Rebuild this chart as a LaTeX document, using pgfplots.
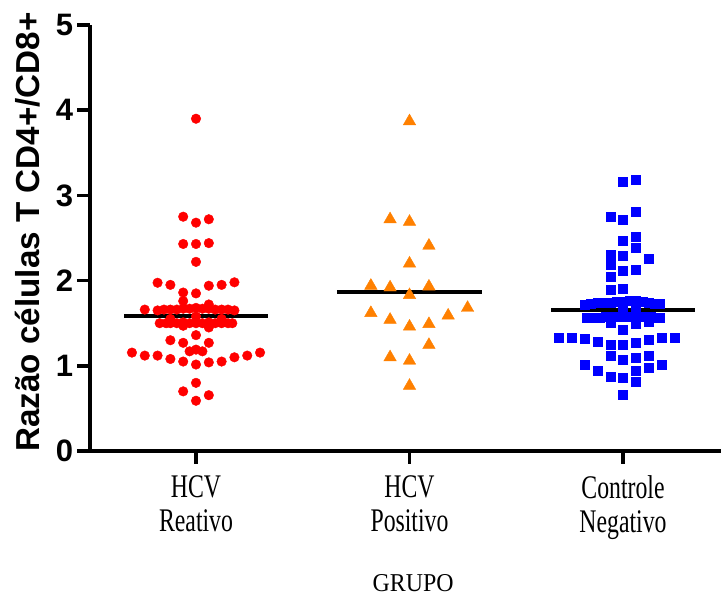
\documentclass[border=0pt]{standalone}
\usepackage{fontspec}
\setmainfont{Liberation Serif}
\setsansfont{Liberation Sans}
\usepackage{pgfplots}
\pgfplotsset{compat=1.18}
\usetikzlibrary{calc}
\definecolor{gred}{HTML}{FF0000}
\definecolor{gorange}{HTML}{FF8000}
\definecolor{gblue}{HTML}{0000FF}

\begin{document}
\begin{tikzpicture}
\begin{axis}[
  width=315.5pt, height=213pt, scale only axis,
  xmin=-0.4965, xmax=2.459, ymin=0, ymax=5,
  axis x line*=bottom, axis y line*=left,
  axis line style={-, line width=2pt, black},
  tick style={black, line width=1.75pt},
  tick align=outside, major tick length=6.25pt,
  xtick={0,1,2}, ytick={0,1,2,3,4,5},
  xtick pos=bottom, ytick pos=left,
  xticklabels={HCV\\Reativo, HCV\\Positivo, Controle\\Negativo},
  xticklabel style={align=center, font=\fontsize{16.5}{17}\selectfont, xscale=0.72, inner sep=0pt, yshift=-6pt},
  yticklabel style={font=\sffamily\bfseries\fontsize{15.5}{15.5}\selectfont, inner sep=0pt, xshift=-2pt},
  /pgf/number format/assume math mode=true,
  xlabel={GRUPO},
  xlabel style={at={(axis description cs:0.512,-0.311)}, anchor=center, font=\fontsize{12.85}{13}\selectfont, xscale=0.93},
  ylabel={Razão células T CD4+/CD8+},
  ylabel style={at={(axis description cs:-0.0983,0.514)}, anchor=center, font=\sffamily\bfseries\fontsize{16.6}{16.6}\selectfont},
]
\coordinate (bl) at (rel axis cs:0,0);
\coordinate (tr) at (rel axis cs:1,1);

% HCV Reativo
\addplot[only marks, mark=*, mark size=2.4pt, gred, mark options={line width=0.2pt, fill=gred}] coordinates {
 (0,3.90)
 (-0.06,2.75) (0,2.68) (0.06,2.72)
 (-0.06,2.43) (0,2.43) (0.06,2.44)
 (0,2.22)
 (-0.18,1.975) (-0.12,1.95) (0.06,1.94) (0.12,1.95) (0.18,1.98)
 (-0.06,1.86) (0,1.85)
 (-0.06,1.76) (0.06,1.72)
 (-0.24,1.66) (-0.18,1.65) (-0.15,1.66) (-0.12,1.66) (-0.09,1.66) (-0.06,1.67) (-0.03,1.67) (0,1.68)
 (0.03,1.67) (0.06,1.67) (0.09,1.66) (0.12,1.66) (0.15,1.66) (0.18,1.65)
 (-0.12,1.55) (0,1.58) (0.12,1.55)
 (-0.17,1.50) (-0.14,1.50) (-0.12,1.50) (-0.09,1.50) (-0.06,1.51) (-0.03,1.50) (0,1.50)
 (0.03,1.50) (0.06,1.51) (0.09,1.50) (0.12,1.50) (0.15,1.50) (0.17,1.50)
 (-0.06,1.47) (0.06,1.45)
 (-0.12,1.30) (-0.06,1.27) (0,1.36) (0.06,1.27)
 (-0.03,1.17) (0,1.19) (0.03,1.17)
 (-0.30,1.155) (-0.24,1.12) (-0.18,1.12) (-0.12,1.08) (-0.06,1.05) (0,1.015)
 (0.06,1.04) (0.12,1.05) (0.18,1.10) (0.24,1.12) (0.30,1.155)
 (0,0.80) (-0.06,0.70) (0.06,0.655) (0,0.59)
};

% HCV Positivo
\addplot[only marks, mark=triangle*, mark size=3.6pt, gorange, mark options={line width=0.2pt, fill=gorange}] coordinates {
 (1,3.87)
 (0.909,2.72) (1,2.69)
 (1.091,2.41)
 (1,2.20)
 (0.819,1.94) (0.909,1.92) (1.091,1.93) (1,1.83)
 (0.819,1.62) (0.909,1.54) (1,1.46) (1.091,1.49) (1.181,1.59) (1.272,1.68)
 (1.091,1.245)
 (0.909,1.10) (1,1.06)
 (1,0.765)
};

% Controle Negativo
\addplot[only marks, mark=square*, mark size=2.25pt, gblue, mark options={line width=0.2pt, fill=gblue}] coordinates {
 (2,3.16) (2.06,3.19)
 (1.94,2.75) (2,2.71) (2.06,2.81)
 (2,2.47) (2.06,2.51) (2.06,2.385)
 (1.94,2.30) (2,2.29) (2.12,2.26)
 (1.94,2.19) (2,2.115) (2.06,2.13)
 (1.94,2.05)
 (1.94,1.89) (2,1.91)
 (1.82,1.72) (1.85,1.73) (1.88,1.74) (1.91,1.74) (1.94,1.74) (1.97,1.75) (2,1.75)
 (2.03,1.76) (2.06,1.77) (2.09,1.75) (2.12,1.74) (2.15,1.73) (2.17,1.73)
 (2,1.66) (2.06,1.68)
 (1.83,1.57) (1.86,1.57) (1.89,1.57) (1.92,1.58) (1.95,1.58) (1.98,1.58) (2.01,1.58)
 (2.04,1.58) (2.07,1.58) (2.10,1.58) (2.13,1.58) (2.16,1.57) (2.17,1.57)
 (1.94,1.51) (2.06,1.50) (2.12,1.52)
 (2,1.42)
 (1.70,1.335) (1.76,1.335) (1.82,1.32) (1.88,1.285) (1.94,1.25) (2,1.25)
 (2.06,1.275) (2.12,1.31) (2.18,1.335) (2.24,1.335)
 (1.94,1.12) (2,1.07) (2.06,1.09) (2.12,1.12)
 (1.82,1.01) (1.88,0.945) (2.06,0.945) (2.12,0.975) (2.18,1.015)
 (1.94,0.875) (2,0.86) (2.06,0.81)
 (2,0.665)
};

% mean lines
\addplot[black, line width=2pt] coordinates {(-0.335,1.58) (0.335,1.58)};
\addplot[black, line width=2pt] coordinates {(0.66,1.87) (1.34,1.87)};
\addplot[black, line width=2pt] coordinates {(1.663,1.65) (2.337,1.65)};
\end{axis}
\pgfresetboundingbox
\path ($(bl)+(-45pt,-72pt)$) rectangle ($(tr)+(0pt,12.5pt)$);
\end{tikzpicture}
\end{document}
